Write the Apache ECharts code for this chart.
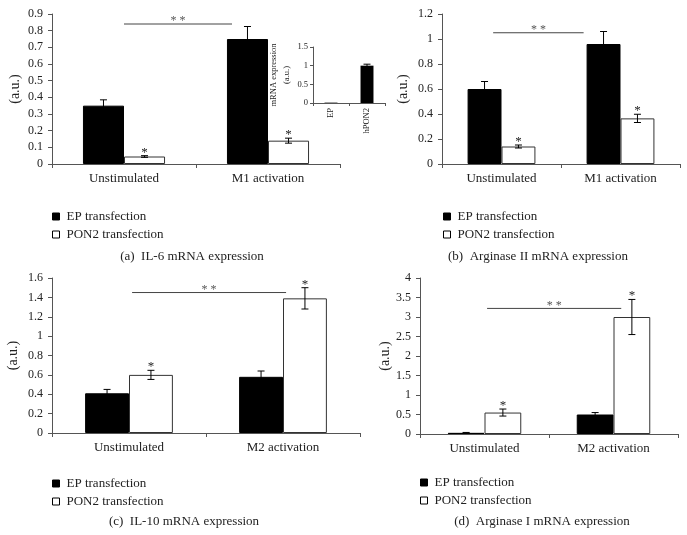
<!DOCTYPE html>
<html>
<head>
<meta charset="utf-8">
<script src="https://cdn.jsdelivr.net/npm/echarts@6/dist/echarts.min.js"></script>
<style>
html,body{margin:0;padding:0;background:#fff;}
#chart{width:687px;height:535px;}
</style>
</head>
<body>
<div id="chart"></div>
<script>
// ---------- data ----------
const catsM1 = ['Unstimulated', 'M1 activation'];
const catsM2 = ['Unstimulated', 'M2 activation'];
const seriesNames = ['EP transfection', 'PON2 transfection'];

// (a) IL-6
const il6EP = [0.35, 0.75];
const il6EPErr = [0.035, 0.075];
const il6PON2 = [0.045, 0.14];
const il6PON2Err = [0.005, 0.015];
const il6Sig = [0, 0.75, 0.84];        // from category pos, to category pos, height
const il6Ticks = [0, 0.9, 0.1];

// inset of (a)
const insetCats = ['EP', 'hPON2'];
const insetVals = [0.01, 1.0];
const insetErr = [0, 0.04];
const insetTicks = [0, 1.5, 0.5];

// (b) Arginase II
const arg2EP = [0.60, 0.96];
const arg2EPErr = [0.06, 0.10];
const arg2PON2 = [0.14, 0.365];
const arg2PON2Err = [0.012, 0.033];
const arg2Sig = [-0.07, 0.69, 1.05];
const arg2Ticks = [0, 1.2, 0.2];

// (c) IL-10
const il10EP = [0.41, 0.58];
const il10EPErr = [0.04, 0.06];
const il10PON2 = [0.60, 1.39];
const il10PON2Err = [0.047, 0.11];
const il10Sig = [0.02, 1.02, 1.45];
const il10Ticks = [0, 1.6, 0.2];

// (d) Arginase I
const arg1EP = [0.03, 0.50];
const arg1EPErr = [0.01, 0.05];
const arg1PON2 = [0.55, 3.0];
const arg1PON2Err = [0.09, 0.45];
const arg1Sig = [0.02, 1.06, 3.22];
const arg1Ticks = [0, 4, 0.5];

const captions = ['(a)  IL-6 mRNA expression', '(b)  Arginase II mRNA expression',
                  '(c)  IL-10 mRNA expression', '(d)  Arginase I mRNA expression'];

// ---------- styles ----------
const FONT = "'Liberation Serif', 'Times New Roman', serif";
const AXIS = '#555';
const TXT = '#222';
const GAP = 0.43;

const panels = [
  {grid:{left:52, top:14, width:288, height:150}, cats:catsM1, ep:il6EP, epErr:il6EPErr, pon:il6PON2, ponErr:il6PON2Err, sig:il6Sig, ticks:il6Ticks, nameGap:30},
  {grid:{left:442, top:14, width:238, height:150}, cats:catsM1, ep:arg2EP, epErr:arg2EPErr, pon:arg2PON2, ponErr:arg2PON2Err, sig:arg2Sig, ticks:arg2Ticks, nameGap:32},
  {grid:{left:52, top:278, width:308, height:155}, cats:catsM2, ep:il10EP, epErr:il10EPErr, pon:il10PON2, ponErr:il10PON2Err, sig:il10Sig, ticks:il10Ticks, nameGap:32},
  {grid:{left:420, top:278, width:258, height:156}, cats:catsM2, ep:arg1EP, epErr:arg1EPErr, pon:arg1PON2, ponErr:arg1PON2Err, sig:arg1Sig, ticks:arg1Ticks, nameGap:28}
];

const grids = [], xAxes = [], yAxes = [], series = [];

function errRender(sign, star, nBars, gap) {
  return function (params, api) {
    const idx = api.value(0), v = api.value(1), e = api.value(2);
    const catW = api.size([1, 0])[0];
    const bw = catW * (1 - gap) / nBars;
    const c = api.coord([idx, v]);
    const x = c[0] + sign * bw / 2;
    const top = api.coord([idx, v + e])[1];
    const bot = api.coord([idx, Math.max(0, v - e)])[1];
    const cap = 3.5;
    const st = {stroke: '#000', lineWidth: 1};
    const ch = [];
    if (e > 0) {
      ch.push({type:'line', shape:{x1:x, y1:top, x2:x, y2:bot}, style:st});
      ch.push({type:'line', shape:{x1:x-cap, y1:top, x2:x+cap, y2:top}, style:st});
      ch.push({type:'line', shape:{x1:x-cap, y1:bot, x2:x+cap, y2:bot}, style:st});
    }
    if (star) {
      ch.push({type:'text', x:x, y:top + 3, style:{text:'*', font:'13px ' + FONT, fill:'#222', align:'center', verticalAlign:'bottom'}});
    }
    return {type:'group', children:ch};
  };
}

function sigRender(params, api) {
  const from = api.value(0), to = api.value(1), h = api.value(2);
  const p0 = api.coord([0, h]), p1 = api.coord([1, h]);
  const x1 = p0[0] + (p1[0] - p0[0]) * from;
  const x2 = p0[0] + (p1[0] - p0[0]) * to;
  const y = p0[1];
  return {type:'group', children:[
    {type:'line', shape:{x1:x1, y1:y, x2:x2, y2:y}, style:{stroke:'#444', lineWidth:1}},
    {type:'text', x:(x1 + x2) / 2, y:y + 3, style:{text:'* *', font:'12px ' + FONT, fill:'#555', align:'center', verticalAlign:'bottom'}}
  ]};
}

panels.forEach(function (p, i) {
  grids.push(p.grid);
  xAxes.push({
    type:'category', gridIndex:i, data:p.cats,
    axisLine:{lineStyle:{color:AXIS, width:1}},
    axisTick:{show:true, length:4, lineStyle:{color:AXIS}},
    axisLabel:{color:TXT, fontSize:13, fontFamily:FONT, margin:8}
  });
  yAxes.push({
    type:'value', gridIndex:i, min:p.ticks[0], max:p.ticks[1], interval:p.ticks[2],
    name:'(a.u.)', nameLocation:'middle', nameGap:p.nameGap,
    nameTextStyle:{color:TXT, fontSize:14, fontFamily:FONT},
    axisLine:{show:true, lineStyle:{color:AXIS, width:1}},
    axisTick:{show:true, length:4, lineStyle:{color:AXIS}},
    axisLabel:{color:TXT, fontSize:12, fontFamily:FONT, margin:9},
    splitLine:{show:false}
  });
  series.push({
    name:seriesNames[0], type:'bar', xAxisIndex:i, yAxisIndex:i, data:p.ep,
    barGap:'0%', barCategoryGap:(GAP*100)+'%',
    itemStyle:{color:'#000', borderColor:'#000', borderWidth:1}, silent:true
  });
  series.push({
    name:seriesNames[1], type:'bar', xAxisIndex:i, yAxisIndex:i, data:p.pon,
    barGap:'0%', barCategoryGap:(GAP*100)+'%',
    itemStyle:{color:'#fff', borderColor:'#333', borderWidth:1}, silent:true
  });
  series.push({
    type:'custom', xAxisIndex:i, yAxisIndex:i, silent:true, z:5,
    data:p.ep.map(function (v, k) { return [k, v, p.epErr[k]]; }),
    renderItem:errRender(-1, false, 2, GAP)
  });
  series.push({
    type:'custom', xAxisIndex:i, yAxisIndex:i, silent:true, z:5,
    data:p.pon.map(function (v, k) { return [k, v, p.ponErr[k]]; }),
    renderItem:errRender(1, true, 2, GAP)
  });
  series.push({
    type:'custom', xAxisIndex:i, yAxisIndex:i, silent:true, z:5,
    data:[p.sig], renderItem:sigRender
  });
});

// inset grid (index 4)
grids.push({left:313, top:47, width:72, height:56});
xAxes.push({
  type:'category', gridIndex:4, data:insetCats,
  axisLine:{lineStyle:{color:AXIS, width:1}},
  axisTick:{show:true, length:3, lineStyle:{color:AXIS}},
  axisLabel:{color:TXT, fontSize:8.5, fontFamily:FONT, rotate:90, margin:5}
});
yAxes.push({
  type:'value', gridIndex:4, min:insetTicks[0], max:insetTicks[1], interval:insetTicks[2],
  name:'mRNA expression\n(a.u.)', nameLocation:'middle', nameGap:19,
  nameTextStyle:{color:TXT, fontSize:8.5, fontFamily:FONT, lineHeight:13},
  axisLine:{show:true, lineStyle:{color:AXIS, width:1}},
  axisTick:{show:true, length:3, lineStyle:{color:AXIS}},
  axisLabel:{color:TXT, fontSize:8.5, fontFamily:FONT, margin:5},
  splitLine:{show:false}
});
series.push({
  type:'bar', xAxisIndex:4, yAxisIndex:4, data:insetVals, barCategoryGap:'64%',
  itemStyle:{color:'#000'}, silent:true
});
series.push({
  type:'custom', xAxisIndex:4, yAxisIndex:4, silent:true, z:5,
  data:insetVals.map(function (v, k) { return [k, v, insetErr[k]]; }),
  renderItem:errRender(0, false, 1, 0.64)
});

const legendPos = [[47, 205], [438, 205], [47, 472], [415, 471]];
const legends = legendPos.map(function (lp) {
  return {
    left:lp[0], top:lp[1], orient:'vertical', itemGap:5,
    itemWidth:11, itemHeight:7, selectedMode:false,
    textStyle:{color:TXT, fontSize:13, fontFamily:FONT},
    data:[
      {name:seriesNames[0], icon:'path://M0,0h7v7h-7z', itemStyle:{color:'#000', borderColor:'#000', borderWidth:1}},
      {name:seriesNames[1], icon:'path://M0,0h7v7h-7z', itemStyle:{color:'#fff', borderColor:'#000', borderWidth:1}}
    ]
  };
});

const capPos = [[192, 250], [538, 250], [184, 515], [542, 515]];
const titles = capPos.map(function (cp, k) {
  return {
    text:captions[k], left:cp[0], top:cp[1], textAlign:'center', padding:0,
    textStyle:{color:TXT, fontSize:13, fontWeight:'normal', fontFamily:FONT}
  };
});

const chart = echarts.init(document.getElementById('chart'), null, {renderer:'canvas'});
chart.setOption({
  animation:false,
  backgroundColor:'#fff',
  title:titles,
  legend:legends,
  grid:grids,
  xAxis:xAxes,
  yAxis:yAxes,
  series:series
});
</script>
</body>
</html>
